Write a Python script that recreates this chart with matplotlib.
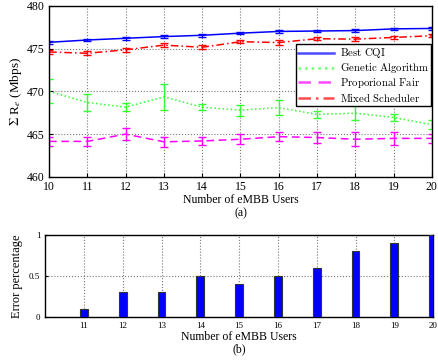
import matplotlib
matplotlib.use("Agg")
import matplotlib.pyplot as plt
from matplotlib.font_manager import FontProperties

plt.rcParams['font.family'] = ['Liberation Serif', 'DejaVu Serif']
plt.rcParams['mathtext.fontset'] = 'stix'

# Sum rate vs number of eMBB users
users = [10, 11, 12, 13, 14, 15, 16, 17, 18, 19, 20]

cqi = [475.73, 476.0, 476.2, 476.4, 476.55, 476.8, 477.0, 477.05, 477.1, 477.3, 477.35]
cqi_err = [0.15, 0.15, 0.15, 0.15, 0.15, 0.15, 0.15, 0.15, 0.15, 0.15, 0.15]

ga = [470.0, 468.7, 468.15, 469.35, 468.15, 467.8, 468.1, 467.3, 467.45, 466.95, 466.1]
ga_err = [1.4, 1.0, 0.45, 1.55, 0.35, 0.65, 0.9, 0.4, 0.85, 0.45, 0.5]

pf = [464.15, 464.15, 465.0, 464.1, 464.2, 464.4, 464.7, 464.6, 464.4, 464.5, 464.5]
pf_err = [0.5, 0.55, 0.7, 0.55, 0.5, 0.6, 0.5, 0.6, 0.8, 0.8, 0.5]

mixed = [474.6, 474.45, 474.85, 475.4, 475.15, 475.8, 475.7, 476.15, 476.1, 476.3, 476.5]
mixed_err = [0.2, 0.25, 0.25, 0.2, 0.25, 0.2, 0.25, 0.2, 0.2, 0.2, 0.2]

labels = ['Best CQI', 'Genetic Algorithm', 'Proporional Fair', 'Mixed Scheduler']

# Error percentage of the mixed scheduler
err_users = [11, 12, 13, 14, 15, 16, 17, 18, 19, 20]
err_pct = [0.1, 0.3, 0.3, 0.5, 0.4, 0.5, 0.6, 0.8, 0.9, 1.0]

fig = plt.figure(figsize=(4.38, 3.61), dpi=100)

ax1 = fig.add_axes([0.112, 0.510, 0.874, 0.474])
styles = [('#0000ff', '-'), ('#33ff33', ':'), ('#ff00ff', (0, (5, 3))), ('#ff0000', (0, (5, 2, 1, 2)))]
handles = []
for vals, errs, (col, ls), name in zip([cqi, ga, pf, mixed], [cqi_err, ga_err, pf_err, mixed_err], styles, labels):
    ax1.errorbar(users, vals, yerr=errs, color=col, ls=ls, lw=1.1,
                 capsize=3, elinewidth=1.0, capthick=1.0)
    h, = ax1.plot([], [], color=col, ls=ls, lw=1.8, alpha=0.7,
                  label=r'$\mathrm{' + name.replace(' ', r'\ ') + '}$')
    handles.append(h)

ax1.set_xlim(10, 20)
ax1.set_ylim(460, 480)
ax1.set_xticks(range(10, 21))
ax1.set_yticks([460, 465, 470, 475, 480])
ax1.grid(True, ls=':', color='#777777', lw=0.8)
ax1.tick_params(direction='in', labelsize=8.5, length=3, pad=3)
for s in ax1.spines.values():
    s.set_linewidth(1.0)
ax1.set_ylabel(r'$\Sigma$ R$_e$ (Mbps)', fontsize=9.5, labelpad=2)
ax1.set_xlabel('Number of eMBB Users\n(a)', fontsize=8.5, labelpad=1, linespacing=1.1)
leg = ax1.legend(handles=handles, loc='upper right', bbox_to_anchor=(0.998, 0.775),
                 prop=FontProperties(size=7.8, math_fontfamily='cm'),
                 frameon=True, fancybox=False, edgecolor='black',
                 framealpha=1, borderpad=0.2, labelspacing=0.08, handlelength=3.3,
                 handletextpad=0.5, borderaxespad=0)
leg.get_frame().set_linewidth(1.0)

ax2 = fig.add_axes([0.103, 0.122, 0.886, 0.227])
ax2.bar(err_users, err_pct, width=0.2, color='#0000ff', edgecolor='#333333', lw=0.8, zorder=3)
ax2.set_xlim(10, 20)
ax2.set_ylim(0, 1)
ax2.set_xticks(range(11, 21))
ax2.set_yticks([0, 0.5, 1])
ax2.set_yticklabels(['0', '0.5', '1'])
ax2.grid(True, ls=':', color='#777777', lw=0.8)
ax2.set_axisbelow(True)
ax2.tick_params(direction='in', labelsize=6.5, length=2)
for s in ax2.spines.values():
    s.set_linewidth(1.0)
ax2.set_ylabel('Error percentage', fontsize=9, labelpad=4)
ax2.set_xlabel('Number of eMBB Users\n(b)', fontsize=8.5, labelpad=1, linespacing=1.0)

fig.savefig('out.png', dpi=100)
